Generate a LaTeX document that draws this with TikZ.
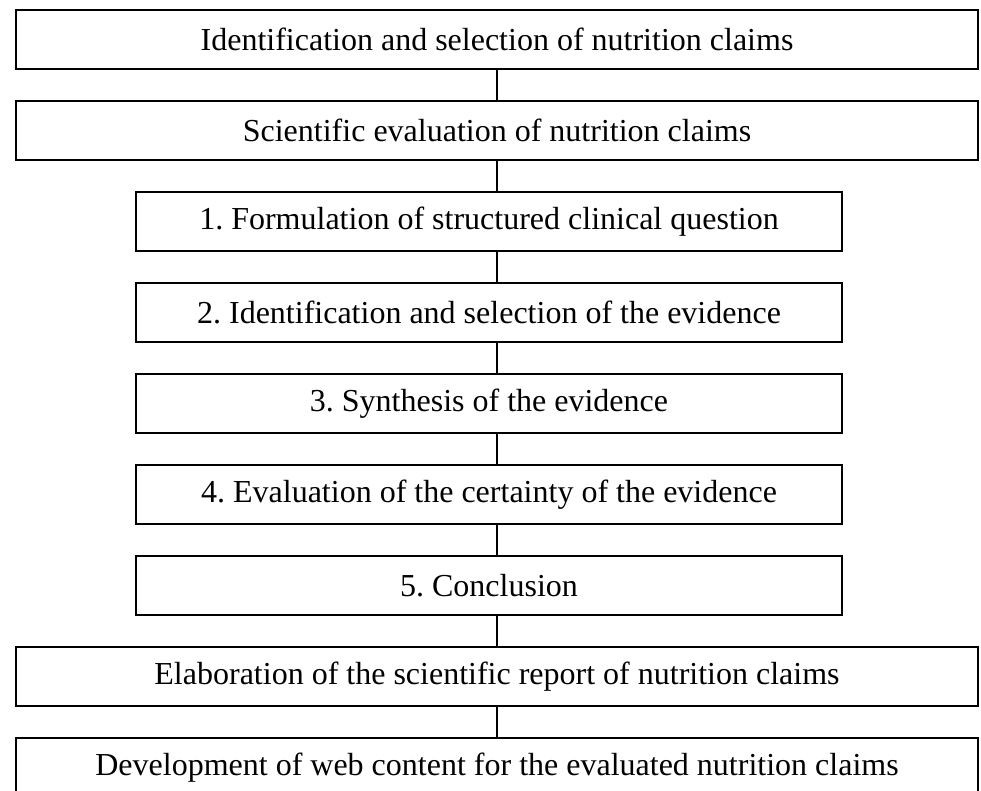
\documentclass[tikz,border=0pt]{standalone}
\usepackage{fontspec}
\setmainfont{Liberation Serif}
\frenchspacing
\begin{document}
\begin{tikzpicture}[x=1pt,y=-1pt,
  wide/.style={draw=black,line width=1.8pt,minimum width=962pt,minimum height=59pt,inner sep=0pt,font=\fontsize{32}{38}\selectfont,anchor=center},
  narrow/.style={wide,minimum width=706pt},
  link/.style={draw=black,line width=1.8pt}]
\useasboundingbox (0,0) rectangle (981,791);
\node[wide] (b1) at (497,39.5) {Identification and selection of nutrition claims};
\node[wide] (b2) at (497,130.5) {Scientific evaluation of nutrition claims};
\node[narrow] (b3) at (489,221.5) {1. Formulation of structured clinical question};
\node[narrow] (b4) at (489,312.5) {2. Identification and selection of the evidence};
\node[narrow] (b5) at (489,403.5) {3. Synthesis of the evidence};
\node[narrow] (b6) at (489,494.5) {4. Evaluation of the certainty of the evidence};
\node[narrow] (b7) at (489,585.5) {5. Conclusion};
\node[wide] (b8) at (497,676.5) {Elaboration of the scientific report of nutrition claims};
\node[wide] (b9) at (497,767.5) {Development of web content for the evaluated nutrition claims};
\foreach \a/\b in {b1/b2,b2/b3,b3/b4,b4/b5,b5/b6,b6/b7,b7/b8,b8/b9}
  \draw[link] (\a.south -| 497,0) -- (\b.north -| 497,0);
\end{tikzpicture}
\end{document}
